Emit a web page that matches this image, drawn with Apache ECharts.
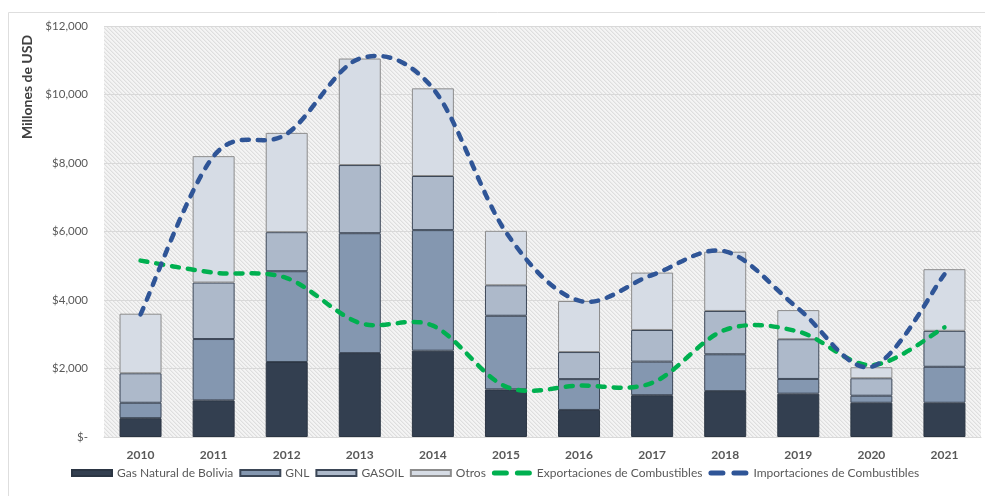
<!DOCTYPE html>
<html>
<head>
<meta charset="utf-8">
<title>Importaciones y exportaciones de combustibles</title>
<script src="https://cdn.jsdelivr.net/npm/echarts@6/dist/echarts.min.js"></script>
<style>
  html, body { margin: 0; padding: 0; background: #ffffff; }
  #chart { width: 985px; height: 496px; }
</style>
</head>
<body>
<div id="chart"></div>
<script>
// Years on the category axis
const years = ['2010', '2011', '2012', '2013', '2014', '2015', '2016', '2017', '2018', '2019', '2020', '2021'];

// Fuel imports by product (millions of USD), stacked
const gasNatural = [550, 1070, 2190, 2450, 2520, 1390, 790, 1220, 1340, 1265, 1000, 1000];
const gnl        = [450, 1790, 2650, 3500, 3520, 2150, 900, 980, 1075, 430, 205, 1050];
const gasoil     = [860, 1650, 1140, 1990, 1580, 890, 790, 925, 1265, 1160, 510, 1050];
const otros      = [1740, 3690, 2900, 3110, 2560, 1590, 1490, 1675, 1730, 850, 320, 1800];

// Totals drawn as smooth dashed curves
const importaciones = [3580, 8200, 8850, 11050, 10180, 5980, 3980, 4730, 5420, 3750, 2050, 4750];
const exportaciones = [5150, 4800, 4640, 3330, 3250, 1470, 1500, 1580, 3130, 3080, 2100, 3200];

// Value axis tick labels, one per 2,000 step
const yTickLabels = ['$-', '$2,000', '$4,000', '$6,000', '$8,000', '$10,000', '$12,000'];

// Fine diagonal hatch used as the plot background
function hatchPattern() {
  const c = document.createElement('canvas');
  c.width = 4; c.height = 4;
  const ctx = c.getContext('2d');
  ctx.fillStyle = '#f4f4f4';
  ctx.fillRect(0, 0, 4, 4);
  for (let i = 0; i < 4; i++) {
    ctx.fillStyle = '#dedede';
    ctx.fillRect(i, i, 1, 1);
    ctx.fillStyle = '#ebebeb';
    ctx.fillRect((i + 1) % 4, i, 1, 1);
  }
  return { image: c, repeat: 'repeat' };
}

const FONT = 'Lato, "Open Sans", sans-serif';
// Legend glyph for the dashed curves: two rounded dashes
const DASH_ICON = 'path://M2.5,0H14.5A2.5,2.5,0,0,1,14.5,5H2.5A2.5,2.5,0,0,1,2.5,0Z' +
                  'M25.5,0H37.5A2.5,2.5,0,0,1,37.5,5H25.5A2.5,2.5,0,0,1,25.5,0Z';

const chart = echarts.init(document.getElementById('chart'), null, { renderer: 'canvas' });

function barSeries(name, data, color, border) {
  return {
    name: name,
    type: 'bar',
    stack: 'imports',
    data: data,
    barWidth: 42,
    itemStyle: { color: color, borderColor: border, borderWidth: 1 },
    emphasis: { disabled: true },
    z: 2
  };
}

// Smooth dashed curve through the yearly points (cardinal spline, tension 1/6),
// positioned with the chart's own axes via api.coord.
function curveSeries(name, data, color) {
  return {
    name: name,
    type: 'custom',
    data: data.map(function (v, i) { return [i, v]; }),
    encode: { x: 0, y: 1 },
    itemStyle: { color: color },
    z: 5,
    silent: true,
    renderItem: function (params, api) {
      const n = params.dataInsideLength;
      if (params.dataIndexInside !== n - 1) return null;
      const pts = [];
      for (let j = 0; j < n; j++) {
        pts.push(api.coord([api.value(0, j), api.value(1, j)]));
      }
      let d = 'M' + pts[0][0] + ',' + pts[0][1];
      for (let j = 0; j < n - 1; j++) {
        const p0 = pts[Math.max(j - 1, 0)];
        const p1 = pts[j];
        const p2 = pts[j + 1];
        const p3 = pts[Math.min(j + 2, n - 1)];
        const c1x = p1[0] + (p2[0] - p0[0]) / 6;
        const c1y = p1[1] + (p2[1] - p0[1]) / 6;
        const c2x = p2[0] - (p3[0] - p1[0]) / 6;
        const c2y = p2[1] - (p3[1] - p1[1]) / 6;
        d += 'C' + c1x + ',' + c1y + ',' + c2x + ',' + c2y + ',' + p2[0] + ',' + p2[1];
      }
      return {
        type: 'path',
        shape: { pathData: d },
        style: {
          fill: 'none',
          stroke: color,
          lineWidth: 4.5,
          lineDash: [7, 9],
          lineCap: 'round'
        }
      };
    }
  };
}

chart.setOption({
  animation: false,
  backgroundColor: '#ffffff',
  textStyle: { fontFamily: FONT },
  graphic: [
    {
      type: 'rect',
      shape: { x: 8.5, y: 12.5, width: 990, height: 500 },
      style: { fill: null, stroke: '#dedede', lineWidth: 1 },
      silent: true,
      z: -10
    },
    {
      type: 'text',
      x: 27,
      y: 87,
      rotation: Math.PI / 2,
      style: {
        text: 'Millones de USD',
        fontFamily: FONT,
        fontSize: 14,
        fontWeight: 'bold',
        fill: '#404040',
        align: 'center',
        verticalAlign: 'middle'
      },
      silent: true
    }
  ],
  grid: {
    left: 104,
    right: 4,
    top: 26,
    bottom: 59,
    show: true,
    borderWidth: 0,
    backgroundColor: hatchPattern()
  },
  legend: {
    left: 66,
    top: 462,
    itemWidth: 40,
    itemHeight: 6,
    itemGap: 6,
    textStyle: { fontFamily: FONT, fontSize: 12, color: '#595959' },
    data: [
      { name: 'Gas Natural de Bolivia', icon: 'rect' },
      { name: 'GNL', icon: 'rect' },
      { name: 'GASOIL', icon: 'rect' },
      { name: 'Otros', icon: 'rect' },
      { name: 'Exportaciones de Combustibles', icon: DASH_ICON },
      { name: 'Importaciones de Combustibles', icon: DASH_ICON }
    ]
  },
  xAxis: {
    type: 'category',
    data: years,
    axisLine: { show: true, lineStyle: { color: '#d9d9d9' } },
    axisTick: { show: false },
    axisLabel: {
      margin: 12,
      fontFamily: FONT,
      fontSize: 12,
      fontWeight: 'bold',
      color: '#595959'
    }
  },
  yAxis: {
    type: 'value',
    min: 0,
    max: 12000,
    interval: 2000,
    axisLine: { show: false },
    axisTick: { show: false },
    splitLine: { show: true, lineStyle: { color: '#d9d9d9', width: 1 } },
    axisLabel: {
      margin: 16,
      fontFamily: FONT,
      fontSize: 11.5,
      color: '#595959',
      formatter: function (v) { return yTickLabels[Math.round(v / 2000)]; }
    }
  },
  series: [
    barSeries('Gas Natural de Bolivia', gasNatural, '#333f50', '#2b3543'),
    barSeries('GNL', gnl, '#8497b0', '#3b4656'),
    barSeries('GASOIL', gasoil, '#adb9ca', '#3b4656'),
    barSeries('Otros', otros, '#d6dce5', '#8c8c8c'),
    curveSeries('Exportaciones de Combustibles', exportaciones, '#00b050'),
    curveSeries('Importaciones de Combustibles', importaciones, '#2f5597')
  ]
});
</script>
</body>
</html>
